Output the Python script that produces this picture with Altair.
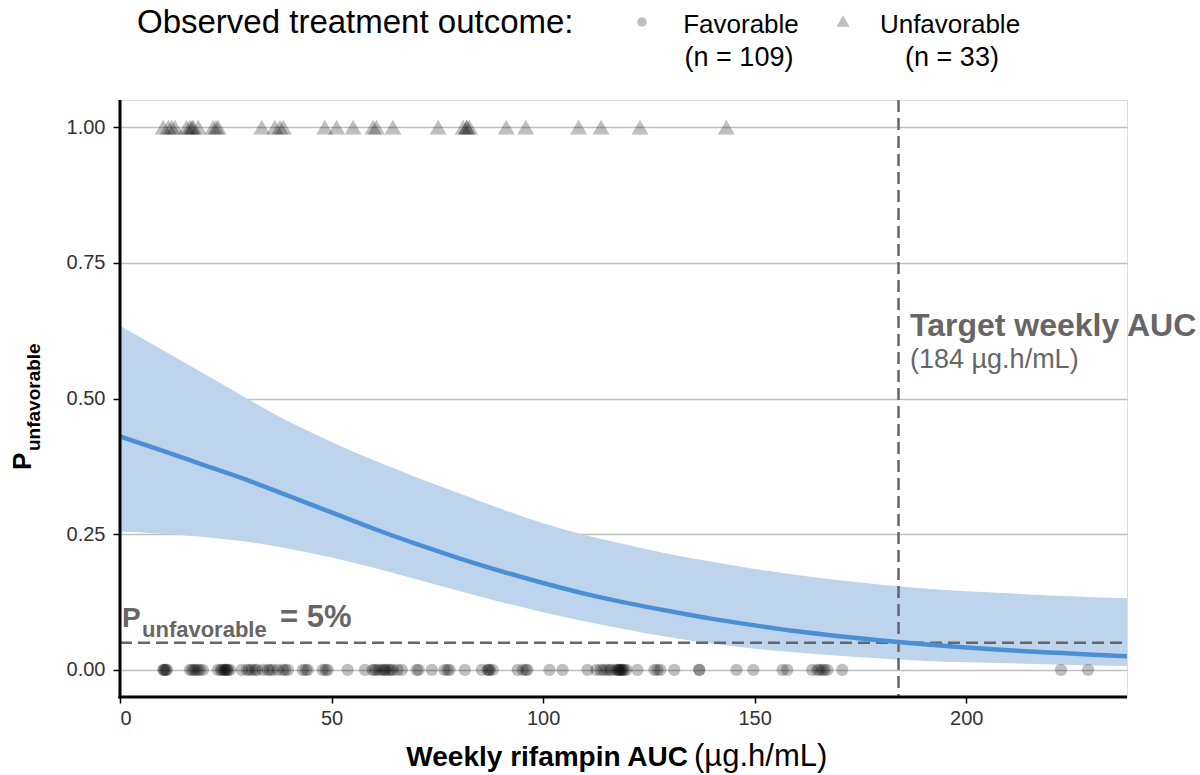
import altair as alt
import pandas as pd

# ---- model fit: probability of unfavorable outcome vs weekly AUC ----
AUC_GRID = [0, 10, 20, 30, 40, 50, 60, 70, 80, 90, 100, 110, 120, 130, 140,
            150, 160, 170, 180, 190, 200, 210, 220, 230, 238]
P_FIT = [0.430, 0.404, 0.377, 0.350, 0.320, 0.290, 0.260, 0.232, 0.206, 0.182,
         0.160, 0.140, 0.123, 0.108, 0.094, 0.082, 0.071, 0.062, 0.054, 0.047,
         0.041, 0.036, 0.032, 0.028, 0.025]
P_HIGH = [0.634, 0.590, 0.545, 0.500, 0.457, 0.420, 0.386, 0.355, 0.326, 0.297,
          0.270, 0.248, 0.230, 0.213, 0.199, 0.186, 0.175, 0.165, 0.157, 0.150,
          0.145, 0.141, 0.137, 0.134, 0.132]
P_LOW = [0.255, 0.251, 0.245, 0.236, 0.223, 0.207, 0.188, 0.167, 0.146, 0.125,
         0.106, 0.089, 0.074, 0.060, 0.048, 0.039, 0.032, 0.026, 0.021, 0.017,
         0.014, 0.012, 0.010, 0.008, 0.007]

# ---- observed outcomes (weekly AUC, ug.h/mL) ----
FAVORABLE_AUC = [
    10.2, 10.4, 10.6, 10.9, 11.1,
    16.5, 17.0, 17.5, 17.9, 18.4, 18.9, 19.6,
    23.1, 23.8, 24.1, 24.6, 24.8, 25.0, 25.3, 25.5, 26.0,
    28.8, 30.0, 30.5, 31.2, 31.9, 32.4,
    33.8, 34.9, 35.4, 36.1, 37.3, 38.5, 39.0, 39.7,
    43.2, 43.9, 44.4, 47.9, 48.6, 49.1, 53.8, 57.9,
    59.7, 60.2, 60.7, 61.4, 62.1, 62.6, 62.8, 63.5, 64.0, 64.5, 65.6, 66.6,
    70.1, 70.6, 73.7, 76.7, 77.4, 77.9, 81.5,
    85.5, 86.9, 87.1, 87.4, 88.1,
    94.0, 95.2, 95.9, 96.3, 101.5, 104.6, 110.5,
    112.6, 113.6, 114.3, 115.0, 115.7, 116.2,
    117.1, 117.6, 117.8, 118.1, 118.3, 118.6, 118.8, 119.2, 119.7,
    122.3, 126.3, 127.0, 127.7, 131.0, 136.9, 136.9, 145.7, 149.7,
    156.6, 157.7, 163.6, 164.8, 165.3, 166.0, 166.5, 167.2, 170.7,
    222.4, 228.8,
]
UNFAVORABLE_AUC = [
    10.2, 11.4, 12.2, 13.0,
    15.7, 16.5, 17.0, 17.3, 18.5,
    22.0, 22.7, 23.2,
    33.5, 36.6, 37.8, 38.6,
    48.4, 51.2, 55.1, 59.8, 60.6, 64.5,
    75.2, 81.1, 81.9, 82.0, 82.6, 91.3, 95.9,
    108.4, 113.7, 122.9, 143.3,
]

TARGET_AUC = 184
P_THRESHOLD = 0.05
X_MAX = 238

W, H = 1007, 597
GREY = "#666666"
FONT = "Liberation Sans"

curve = pd.DataFrame({"auc": AUC_GRID, "fit": P_FIT, "lo": P_LOW, "hi": P_HIGH})
fav = pd.DataFrame({"auc": FAVORABLE_AUC, "p": [0] * len(FAVORABLE_AUC)})
unfav = pd.DataFrame({"auc": UNFAVORABLE_AUC, "p": [1] * len(UNFAVORABLE_AUC)})
one = pd.DataFrame({"k": [0]})

xs = alt.Scale(domain=[0, X_MAX], nice=False, zero=False)
ys = alt.Scale(domain=[-0.05, 1.05], nice=False)

x_axis = alt.Axis(values=[0, 50, 100, 150, 200], title=None, domain=False,
                  grid=False, tickColor="black", tickWidth=1.5, tickSize=6,
                  labelFontSize=20, labelColor="#333333", labelFont=FONT,
                  labelPadding=5)
y_axis = alt.Axis(values=[0, 0.25, 0.5, 0.75, 1.0], format=".2f", title=None,
                  domain=False, grid=True, gridColor="#bfbfbf", gridWidth=1.5,
                  tickColor="black", tickWidth=1.5, tickSize=7,
                  labelFontSize=20, labelColor="#333333", labelFont=FONT,
                  labelPadding=8)

band = alt.Chart(curve).mark_area(
    color="#bed4ec", opacity=1, interpolate="monotone"
).encode(
    x=alt.X("auc:Q", scale=xs, axis=x_axis),
    y=alt.Y("hi:Q", scale=ys, axis=y_axis),
    y2="lo:Q",
)

fit_line = alt.Chart(curve).mark_line(
    color="#4a8fd6", strokeWidth=4.5, interpolate="monotone"
).encode(
    x=alt.X("auc:Q", scale=xs),
    y=alt.Y("fit:Q", scale=ys),
)

hline = alt.Chart(pd.DataFrame({"p": [P_THRESHOLD]})).mark_rule(
    color=GREY, strokeWidth=2.5, strokeDash=[12, 6]
).encode(y=alt.Y("p:Q", scale=ys), x=alt.value(0), x2=alt.value(W))

vline = alt.Chart(pd.DataFrame({"auc": [TARGET_AUC]})).mark_rule(
    color=GREY, strokeWidth=2.5, strokeDash=[12, 6]
).encode(x=alt.X("auc:Q", scale=xs), y=alt.value(0), y2=alt.value(H))

circles = alt.Chart(fav).mark_circle(color="black", opacity=0.25, size=150).encode(
    x=alt.X("auc:Q", scale=xs),
    y=alt.Y("p:Q", scale=ys),
)

triangles = alt.Chart(unfav).mark_point(
    shape="triangle-up", filled=True, color="black", opacity=0.25,
    size=290, strokeWidth=0
).encode(
    x=alt.X("auc:Q", scale=xs),
    y=alt.Y("p:Q", scale=ys),
)

# axis lines drawn above the band
y_domain = alt.Chart(one).mark_rule(color="black", strokeWidth=3).encode(
    x=alt.value(0), y=alt.value(0), y2=alt.value(H + 1.5))
x_domain = alt.Chart(one).mark_rule(color="black", strokeWidth=3).encode(
    y=alt.value(H), x=alt.value(-1.5), x2=alt.value(W))


def label(txt, x, y, size, color="black", weight="normal", align="left",
          angle=0):
    return alt.Chart(pd.DataFrame({"t": [txt]})).mark_text(
        align=align, baseline="alphabetic", fontSize=size, font=FONT,
        fontWeight=weight, color=color, angle=angle
    ).encode(text="t:N", x=alt.value(x), y=alt.value(y))


texts = [
    # target annotation
    label("Target weekly AUC", 790, 236, 32, GREY, "bold"),
    label("(184 µg.h/mL)", 790, 268, 27, GREY),
    # threshold annotation
    label("P", 2, 527, 28, GREY, "bold"),
    label("unfavorable", 22, 537, 22, GREY, "bold"),
    label("= 5%", 160, 527, 31, GREY, "bold"),
    # y title
    label("P", -89, 370, 26, "black", "bold", angle=270),
    label("unfavorable", -80, 351, 19, "black", "bold", angle=270),
    # x title
    label("Weekly rifampin AUC", 568, 666, 28, "black", "bold", align="right"),
    label("(µg.h/mL)", 574, 666, 31, "black", align="left"),
    # legend
    label("Observed treatment outcome:", 17, -67, 33),
    label("Favorable", 621, -67, 26, align="center"),
    label("(n = 109)", 619, -34, 27, align="center"),
    label("Unfavorable", 830, -67, 26, align="center"),
    label("(n = 33)", 832, -34, 27, align="center"),
]

legend_circle = alt.Chart(one).mark_point(
    shape="circle", filled=True, color="black", opacity=0.25, size=90,
    strokeWidth=0
).encode(x=alt.value(522), y=alt.value(-78))
legend_triangle = alt.Chart(one).mark_point(
    shape="triangle-up", filled=True, color="black", opacity=0.25, size=170,
    strokeWidth=0
).encode(x=alt.value(723), y=alt.value(-79))

chart = alt.layer(
    band, hline, vline, fit_line, circles, triangles, y_domain, x_domain,
    legend_circle, legend_triangle, *texts
).properties(
    width=W, height=H,
    autosize=alt.AutoSizeParams(type="none"),
    padding={"left": 120, "top": 100, "right": 73, "bottom": 78},
).configure_view(stroke=None).configure(background="white")

chart.save("out.html", embed_options={"renderer": "svg", "actions": False})
